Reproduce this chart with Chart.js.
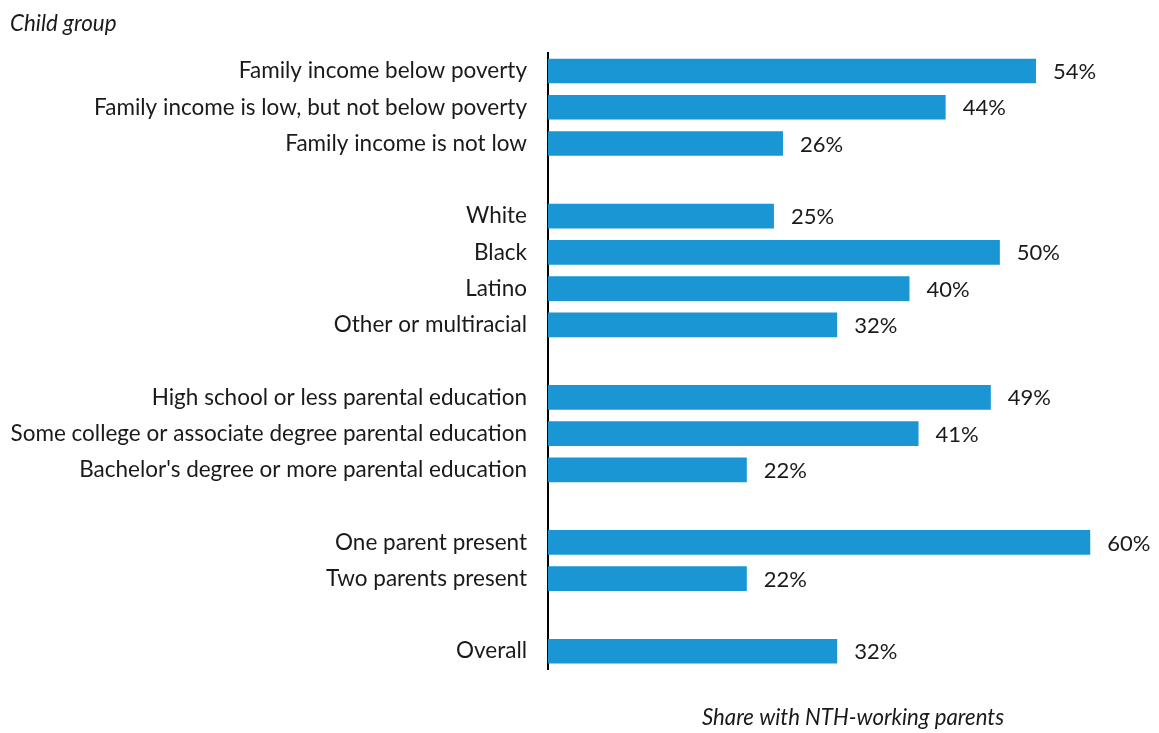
<!DOCTYPE html>
<html>
<head>
<meta charset="utf-8">
<script src="https://cdn.jsdelivr.net/npm/chart.js@4"></script>
<style>
  html, body { margin: 0; padding: 0; background: #fff; }
  #wrap { width: 1159px; height: 733px; position: relative; }
</style>
</head>
<body>
<div id="wrap"><canvas id="c"></canvas></div>
<script>
// Child groups, with empty slots separating the four groupings
const categories = [
  "Family income below poverty",
  "Family income is low, but not below poverty",
  "Family income is not low",
  "",
  "White",
  "Black",
  "Latino",
  "Other or multiracial",
  "",
  "High school or less parental education",
  "Some college or associate degree parental education",
  "Bachelor's degree or more parental education",
  "",
  "One parent present",
  "Two parents present",
  "",
  "Overall"
];

// Share with NTH-working parents (%), null for the spacer rows
const shares = [54, 44, 26, null, 25, 50, 40, 32, null, 49, 41, 22, null, 60, 22, null, 32];

const xTitle = "Share with NTH-working parents";
const yTitle = "Child group";

const BAR_BLUE = "#1996d3";
const TEXT = "#1a1a1a";
const FONT = "Lato, 'Open Sans', sans-serif";

// Writes "NN%" just past the end of each bar
const valueLabels = {
  id: "valueLabels",
  afterDatasetsDraw(chart) {
    const ctx = chart.ctx;
    const meta = chart.getDatasetMeta(0);
    ctx.save();
    ctx.font = "22px " + FONT;
    ctx.fillStyle = TEXT;
    ctx.textAlign = "left";
    ctx.textBaseline = "middle";
    meta.data.forEach((bar, i) => {
      const v = shares[i];
      if (v === null || v === undefined) return;
      ctx.fillText(v + "%", bar.x + 17, bar.y + 1);
    });
    ctx.restore();
  }
};

new Chart(document.getElementById("c"), {
  type: "bar",
  data: {
    labels: categories,
    datasets: [{
      data: shares,
      backgroundColor: BAR_BLUE,
      borderWidth: 0,
      barPercentage: 0.68,
      categoryPercentage: 1.0
    }]
  },
  options: {
    indexAxis: "y",
    responsive: true,
    maintainAspectRatio: false,
    animation: false,
    layout: { padding: { left: 10, right: 1, top: 0, bottom: 2 } },
    plugins: {
      legend: { display: false },
      tooltip: { enabled: false },
      title: {
        display: true,
        text: yTitle,
        align: "start",
        color: TEXT,
        font: { family: FONT, size: 22.4, style: "italic", weight: "normal" },
        padding: { top: 10, bottom: 16 }
      }
    },
    scales: {
      x: {
        min: 0,
        max: 67.5,
        grid: { display: false, drawTicks: false },
        border: { display: false },
        ticks: { display: false },
        title: {
          display: true,
          text: xTitle,
          color: TEXT,
          font: { family: FONT, size: 22.2, style: "italic", weight: "normal" },
          padding: { top: 35, bottom: 0 }
        }
      },
      y: {
        grid: { display: false, drawTicks: false },
        border: { display: true, color: "#000", width: 2 },
        ticks: {
          color: TEXT,
          padding: 21,
          autoSkip: false,
          font: { family: FONT, size: 22.5 }
        },
        afterFit(scale) { scale.width = 538; }
      }
    }
  },
  plugins: [valueLabels]
});
</script>
</body>
</html>
